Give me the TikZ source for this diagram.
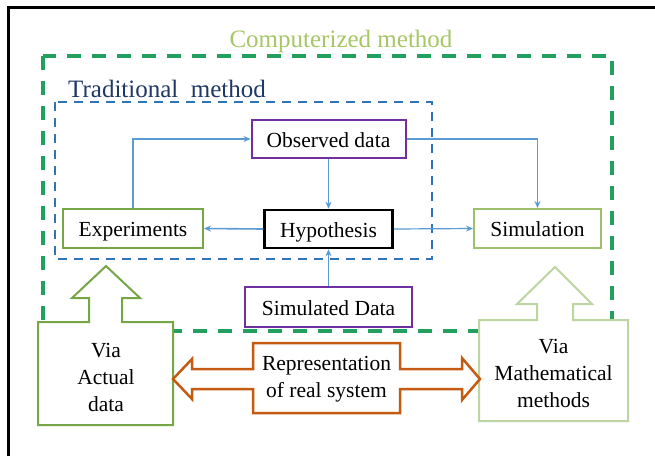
\documentclass[tikz,border=0pt]{standalone}
\usepackage{fontspec}
\setmainfont{Liberation Serif}
\usetikzlibrary{arrows.meta}
\definecolor{compgreen}{HTML}{21A05E}
\definecolor{comptext}{HTML}{A6C765}
\definecolor{tradtext}{HTML}{1F3864}
\definecolor{bluedash}{HTML}{2E75B6}
\definecolor{arrowblue}{HTML}{5B9BD5}
\definecolor{purpleone}{HTML}{7030A0}
\definecolor{expgreen}{HTML}{76A646}
\definecolor{simgreen}{HTML}{9DBF6E}
\definecolor{lightgreen}{HTML}{BDD5A0}
\definecolor{orangeone}{HTML}{C55A11}
\begin{document}
\begin{tikzpicture}[x=1pt,y=-1pt,
  box/.style={draw, line width=2pt, fill=white, minimum height=38pt, inner sep=0pt, text height=16pt, text depth=0pt, font=\fontsize{21.5}{27}\selectfont},
  conn/.style={draw=arrowblue, line width=1.6pt, -{Stealth[length=7pt,width=6pt]}},
  bigtext/.style={align=center, font=\fontsize{21.5}{27}\selectfont, inner sep=0pt},
  titletext/.style={font=\fontsize{25}{30}\selectfont}
  ]
\useasboundingbox (0,0) rectangle (655,456);
\fill[white] (0,0) rectangle (655,456);
\draw[line width=3pt] (8,456) -- (8,7) -- (655,7);

\draw[compgreen, line width=4pt, dash pattern=on 14pt off 11pt] (43,56) rectangle (612,331);
\draw[bluedash, line width=2.7pt, dash pattern=on 9pt off 7pt] (55,102) rectangle (432,259);

\node[titletext, text=comptext] (ctitle) at (341,41) {Computerized method};
\node[titletext, text=tradtext, anchor=west, inner sep=0pt] (ttitle) at (68,89) {Traditional\ \ method};

\node[box, draw=purpleone, minimum width=154pt] (obs) at (328.5,139) {Observed data};
\node[box, draw=black, line width=2.5pt, minimum width=128pt] (hyp) at (328.5,229) {Hypothesis};
\node[box, draw=expgreen, minimum width=140pt, minimum height=39pt] (exp) at (133,228.5) {Experiments};
\node[box, draw=simgreen, minimum width=127pt, minimum height=39pt] (sim) at (537.5,228.5) {Simulation};
\node[box, draw=purpleone, minimum width=167pt, minimum height=40pt] (simd) at (328.5,307) {Simulated Data};

\draw[conn] (exp.north) -- (exp.north |- obs.west) -- (obs.west);
\draw[conn] (obs.east) -| (sim.north);
\draw[conn] (obs.south) -- (hyp.north);
\draw[conn] (hyp.west) -- (exp.east);
\draw[conn, line width=1.2pt] (hyp.east) -- (sim.west);
\draw[conn] (simd.north) -- (hyp.south);

\draw[expgreen, line width=2pt, fill=white] (38,322) -- (89,322) -- (89,298) -- (72,298) -- (106,266) -- (140,298) -- (122,298) -- (122,322) -- (173,322) -- (173,425) -- (38,425) -- cycle;
\node[bigtext] (va) at (106,377) {Via\\Actual\\data};

\draw[lightgreen, line width=2pt, fill=white] (479,320) -- (537,320) -- (537,304) -- (517,304) -- (555,267) -- (592,304) -- (573,304) -- (573,320) -- (628,320) -- (628,421) -- (479,421) -- cycle;
\node[bigtext] (vm) at (553.5,373) {Via\\Mathematical\\methods};

\draw[orangeone, line width=2.5pt, fill=white] (173,379) -- (192,359) -- (192,369) -- (253,369) -- (253,343) -- (400,343) -- (400,369) -- (462,369) -- (462,358) -- (480,379) -- (462,400) -- (462,389) -- (400,389) -- (400,413) -- (253,413) -- (253,389) -- (192,389) -- (192,399) -- cycle;
\node[bigtext] (rep) at (326.5,379) {Representation\\of real system};
\end{tikzpicture}
\end{document}
